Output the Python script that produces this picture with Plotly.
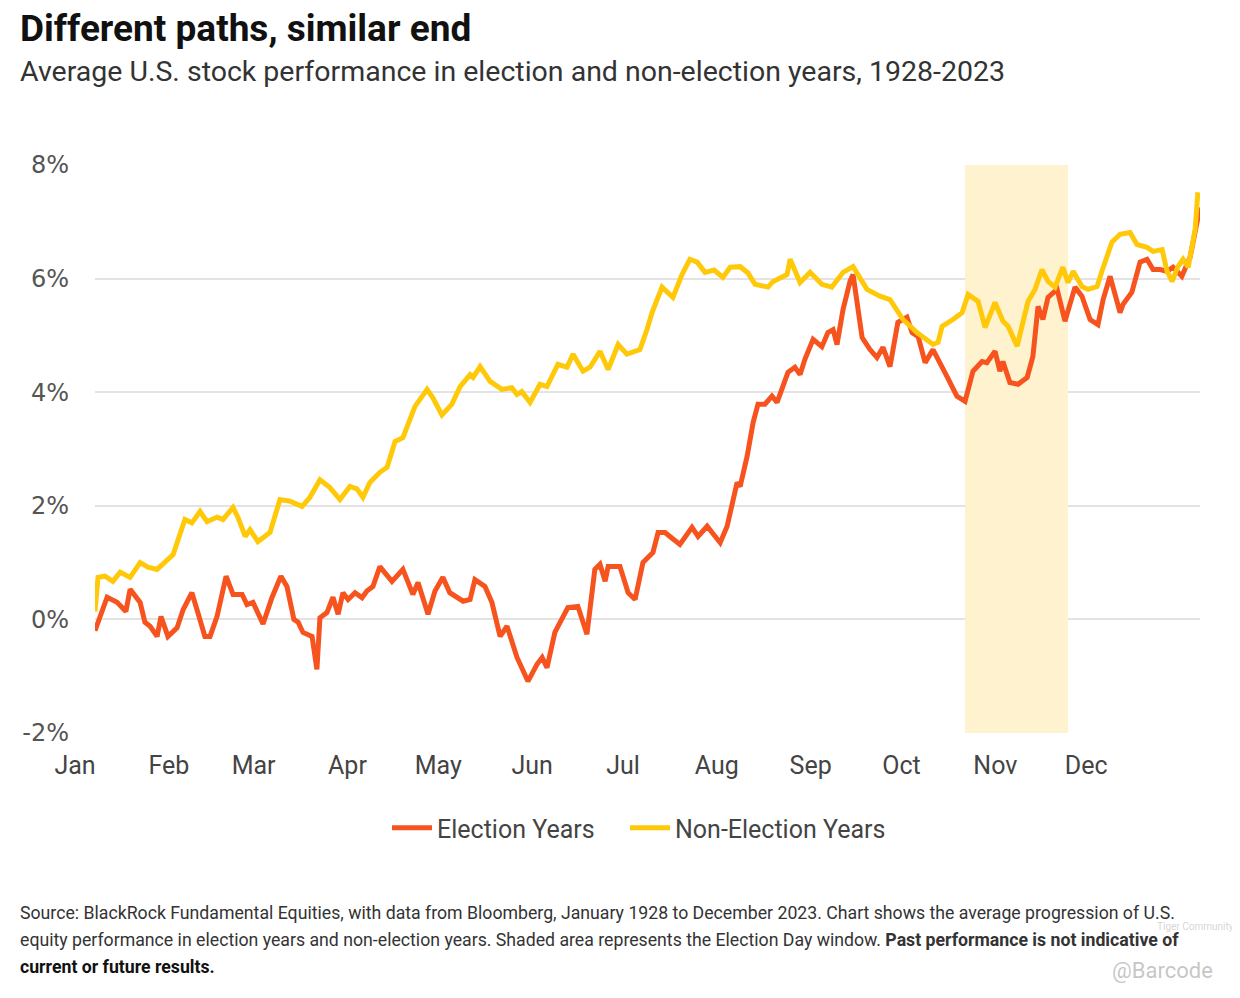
import plotly.graph_objects as go

# ---- data (day of year, average cumulative return %) ----
election_days = [0, 4.0, 7.3, 9.2, 10.2, 11.6, 14.9, 16.5, 18.2, 20.5, 21.8, 24.1, 27.1, 29.1, 32.0, 33.7,
                 36.3, 38.0, 40.3, 43.3, 45.6, 48.6, 50.2, 52.2, 55.5, 58.5, 61.4, 63.4, 65.7, 67.1, 68.7,
                 71.7, 73.3, 74.3, 76.6, 78.6, 80.3, 81.9, 83.6, 85.9, 88.2, 89.8, 91.8, 94.1, 98.1, 101.7,
                 105.0, 106.7, 110.0, 112.3, 114.9, 117.2, 121.6, 123.9, 125.5, 128.8, 131.1, 133.8, 136.1,
                 139.4, 143.0, 146.0, 147.7, 149.3, 151.9, 156.2, 159.5, 162.5, 165.1, 166.8, 168.5, 169.5,
                 173.4, 176.1, 178.4, 181.0, 184.3, 186.0, 188.3, 189.9, 193.2, 197.2, 199.2, 202.2, 206.5,
                 208.8, 212.1, 213.1, 215.4, 217.4, 219.0, 221.3, 223.6, 225.3, 227.3, 228.9, 231.2, 232.9,
                 234.5, 237.2, 240.1, 242.1, 243.8, 245.1, 247.1, 249.4, 250.4, 253.4, 256.0, 258.3, 260.3,
                 262.6, 265.2, 268.2, 269.9, 271.9, 274.2, 276.8, 281.4, 284.7, 287.4, 290.0, 293.0, 294.6,
                 297.3, 298.9, 299.9, 302.2, 304.9, 307.9, 309.8, 311.5, 313.1, 314.8, 317.8, 320.4, 323.7,
                 326.0, 328.7, 331.3, 333.0, 335.3, 338.6, 339.6, 342.5, 345.2, 347.5, 349.5, 351.8, 354.1,
                 356.1, 359.0, 361.7, 365.0]
election_vals = [-0.20, 0.39, 0.30, 0.20, 0.14, 0.53, 0.30, -0.05, -0.12, -0.30, 0.05, -0.30, -0.15, 0.17, 0.47, 0.17,
                 -0.30, -0.30, 0.05, 0.76, 0.44, 0.44, 0.26, 0.30, -0.08, 0.39, 0.76, 0.58, 0.00, -0.05, -0.23,
                 -0.30, -0.88, 0.03, 0.12, 0.39, 0.09, 0.47, 0.35, 0.47, 0.38, 0.50, 0.58, 0.93, 0.67, 0.88,
                 0.44, 0.65, 0.09, 0.50, 0.74, 0.47, 0.32, 0.35, 0.70, 0.58, 0.30, -0.30, -0.12,
                 -0.67, -1.09, -0.79, -0.67, -0.85, -0.23, 0.21, 0.23, -0.26, 0.88, 0.97, 0.67, 0.93,
                 0.93, 0.47, 0.35, 1.00, 1.18, 1.53, 1.53, 1.46, 1.32, 1.62, 1.46, 1.64, 1.35,
                 1.64, 2.41, 2.34, 2.87, 3.47, 3.79, 3.79, 3.93, 3.82, 4.10, 4.35, 4.44, 4.31,
                 4.58, 4.93, 4.80, 5.05, 5.10, 4.84, 5.46, 5.95, 6.07, 4.96, 4.75, 4.61, 4.79,
                 4.45, 5.23, 5.32, 5.05, 4.98, 4.52, 4.75, 4.28, 3.93, 3.84, 4.37, 4.54, 4.52,
                 4.72, 4.37, 4.54, 4.17, 4.14, 4.26, 4.63, 5.51, 5.28, 5.67, 5.81, 5.25, 5.85,
                 5.69, 5.28, 5.19, 5.63, 6.04, 5.40, 5.55, 5.76, 6.29, 6.34, 6.16, 6.16, 6.13,
                 6.20, 6.04, 6.37, 7.25]

non_election_days = [0, 1.0, 3.3, 5.9, 8.3, 11.6, 14.9, 17.5, 20.5, 23.1, 25.8, 29.7, 32.0, 34.7, 37.0, 40.3,
                     42.3, 45.6, 47.2, 49.6, 51.2, 53.8, 57.8, 61.1, 64.4, 68.4, 71.0, 74.3, 77.6, 80.9, 84.2,
                     86.5, 88.5, 90.8, 94.1, 96.5, 99.1, 101.7, 105.7, 109.7, 111.6, 114.6, 117.9, 120.6, 123.9,
                     124.9, 127.2, 130.5, 134.4, 137.7, 139.4, 141.0, 143.7, 147.0, 149.3, 152.9, 155.9, 157.9,
                     161.2, 163.5, 166.8, 169.5, 172.8, 175.7, 180.0, 182.3, 184.0, 187.3, 190.9, 193.9, 196.5,
                     198.9, 201.5, 204.5, 207.4, 209.8, 213.1, 215.7, 218.0, 222.3, 224.0, 228.6, 229.6, 232.9,
                     236.2, 240.1, 243.4, 247.1, 250.4, 255.0, 259.3, 262.6, 266.9, 271.5, 276.8, 278.5, 279.8,
                     283.4, 286.4, 288.4, 291.7, 294.0, 297.3, 299.9, 301.6, 304.6, 308.2, 310.5, 312.8, 314.8,
                     317.1, 319.7, 321.4, 323.1, 326.0, 328.0, 331.0, 332.6, 335.9, 338.6, 341.9, 344.2, 347.5,
                     349.5, 352.5, 354.1, 355.8, 357.7, 359.4, 361.1, 363.4, 364.3]
non_election_vals = [0.14, 0.74, 0.76, 0.67, 0.83, 0.74, 1.00, 0.92, 0.88, 1.00, 1.14, 1.76, 1.70, 1.90, 1.72, 1.80,
                     1.76, 1.97, 1.80, 1.46, 1.58, 1.37, 1.53, 2.11, 2.08, 1.99, 2.15, 2.46, 2.32, 2.11, 2.34,
                     2.30, 2.15, 2.41, 2.59, 2.68, 3.13, 3.20, 3.75, 4.05, 3.90, 3.60, 3.79, 4.10, 4.31,
                     4.26, 4.45, 4.19, 4.05, 4.08, 3.96, 4.01, 3.82, 4.14, 4.10, 4.49, 4.44, 4.67,
                     4.37, 4.44, 4.72, 4.40, 4.84, 4.67, 4.75, 5.10, 5.40, 5.85, 5.67, 6.07, 6.34,
                     6.29, 6.11, 6.15, 6.02, 6.20, 6.21, 6.10, 5.90, 5.85, 5.95, 6.07, 6.34, 5.93,
                     6.11, 5.90, 5.85, 6.11, 6.21, 5.81, 5.69, 5.63, 5.28, 5.05, 4.84, 4.88, 5.16,
                     5.28, 5.40, 5.72, 5.60, 5.14, 5.58, 5.25, 5.16, 4.81, 5.60, 5.81, 6.16, 5.95,
                     5.85, 6.20, 5.93, 6.13, 5.86, 5.81, 5.86, 6.13, 6.64, 6.78, 6.81, 6.60, 6.55,
                     6.48, 6.51, 6.13, 5.95, 6.21, 6.34, 6.20, 6.87, 7.52]

month_labels = ["Jan", "Feb", "Mar", "Apr", "May", "Jun", "Jul", "Aug", "Sep", "Oct", "Nov", "Dec"]
month_start_days = [0, 31, 59, 90, 120, 151, 181, 212, 243, 273, 304, 334]
y_ticks = [-2, 0, 2, 4, 6, 8]
y_tick_labels = ["-2%", "0%", "2%", "4%", "6%", "8%"]
election_window = [287.4, 321.4]

RED = "#F7531E"
YELLOW = "#FFC90A"
FONT = "Roboto"

fig = go.Figure()
fig.add_trace(go.Scatter(x=election_days, y=election_vals, mode="lines", name="Election Years",
                         line=dict(color=RED, width=5), legend="legend"))
fig.add_trace(go.Scatter(x=non_election_days, y=non_election_vals, mode="lines", name="Non-Election Years",
                         line=dict(color=YELLOW, width=5), legend="legend2"))

fig.add_shape(type="rect", xref="x", yref="y", x0=election_window[0], x1=election_window[1],
              y0=-2, y1=8, fillcolor="#FEF2CF", line=dict(width=0), layer="between")

def py(pixel_y):
    return (733 - pixel_y) / 568.0

def px(pixel_x):
    return (pixel_x - 95) / 1105.0

legend_style = dict(orientation="h", xanchor="left", y=py(828), yanchor="middle",
                    font=dict(size=25, color="#444444"), itemwidth=40, bgcolor="rgba(0,0,0,0)")

# the page body has an 8px margin, so the figure is offset by (8, 8) on screen
fig.update_layout(
    width=1240, height=998,
    margin=dict(l=87, r=48, t=157, b=273),
    paper_bgcolor="white", plot_bgcolor="white",
    font=dict(family=FONT, color="#333333"),
    showlegend=True,
    legend=dict(x=px(387), **legend_style),
    legend2=dict(x=px(625), **legend_style),
    xaxis=dict(range=[0, 365], tickmode="array", tickvals=month_start_days, ticktext=month_labels,
               showgrid=False, zeroline=False, showline=False, ticks="",
               tickfont=dict(size=25, color="#444444"), ticklabelshift=-20, ticklabelstandoff=15),
    yaxis=dict(range=[-2, 8], tickmode="array", tickvals=y_ticks, ticktext=y_tick_labels,
               showgrid=True, gridcolor="#E3E3E3", gridwidth=1.5, zeroline=False, showline=False,
               ticks="", tickfont=dict(size=24, color="#555555", family="DejaVu Sans"),
               ticklabelstandoff=25),
)

annotations = [
    dict(text="<b>Different paths, similar end</b>", x=px(18), y=py(28), font=dict(size=37, color="#111111")),
    dict(text="Average U.S. stock performance in election and non-election years, 1928-2023",
         x=px(18), y=py(72), font=dict(size=28.5, color="#333333")),
    dict(text="Source: BlackRock Fundamental Equities, with data from Bloomberg, January 1928 to December 2023. "
              "Chart shows the average progression of U.S.",
         x=px(18), y=py(913), font=dict(size=17.7, color="#333333")),
    dict(text="equity performance in election years and non-election years. Shaded area represents the "
              "Election Day window. <b>Past performance is not indicative of</b>",
         x=px(18), y=py(940), font=dict(size=17.7, color="#333333")),
    dict(text="<b>current or future results.</b>", x=px(18), y=py(967), font=dict(size=17.7, color="#111111")),
]
for a in annotations:
    fig.add_annotation(xref="paper", yref="paper", xanchor="left", yanchor="middle", showarrow=False,
                       align="left", **a)

fig.add_annotation(xref="paper", yref="paper", x=px(1215), y=py(970), xanchor="right", yanchor="middle",
                   showarrow=False, text="@Barcode", font=dict(size=22, color="rgba(160,160,160,0.6)"))
fig.add_annotation(xref="paper", yref="paper", x=px(1236), y=py(926), xanchor="right", yanchor="middle",
                   showarrow=False, text="Tiger Community", font=dict(size=10, color="rgba(170,170,170,0.5)"))

fig.write_html("out.html")
